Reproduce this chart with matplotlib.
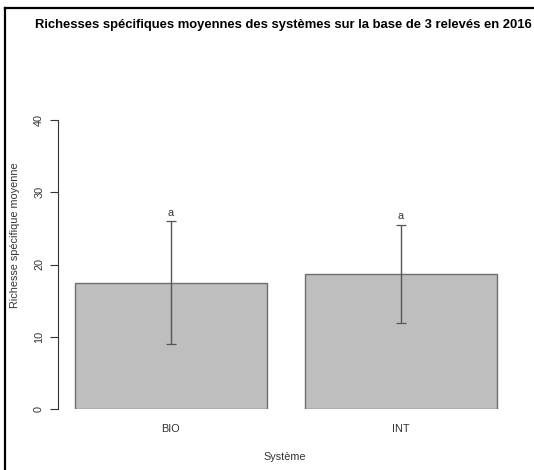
import matplotlib
matplotlib.use("Agg")
import matplotlib.pyplot as plt
from matplotlib.lines import Line2D

plt.rcParams['font.family'] = ['Liberation Sans', 'DejaVu Sans']

categories = ["BIO", "INT"]
means = [17.5, 18.7]
sd = [8.5, 6.8]
letters = ["a", "a"]
yticks = [0, 10, 20, 30, 40]

W, H = 534, 470
fig = plt.figure(figsize=(W / 100, H / 100), dpi=100)

def fx(px):
    return px / W

def fy(py):
    return 1 - py / H

ax = fig.add_axes([fx(58), fy(409), fx(515) - fx(58), fy(120) - fy(409)])
x = list(range(len(categories)))
ax.bar(x, means, width=0.835, color="#bebebe", edgecolor="#6e6e6e", linewidth=1.0, zorder=1)
ax.errorbar(x, means, yerr=sd, fmt="none", ecolor="#555555", elinewidth=1.0,
            capsize=3.8, capthick=0.9, zorder=3, clip_on=False)
for xi, m, s, l in zip(x, means, sd, letters):
    ax.text(xi, m + s + 0.5, l, ha="center", va="bottom", fontsize=7.8, color="#333333", clip_on=False)

ax.set_xlim(-0.491, 1.496)
ax.set_ylim(0, 40)
ax.set_yticks(yticks)
ax.set_yticklabels([str(t) for t in yticks], rotation=90, va="center", fontsize=7.8, color="#333333")
ax.set_xticks(x)
ax.set_xticklabels(categories, fontsize=7.8, color="#333333")
ax.tick_params(axis="x", length=0, pad=11)
ax.tick_params(axis="y", length=6, width=0.8, color="#333333", pad=4)
for s in ["top", "right", "bottom"]:
    ax.spines[s].set_visible(False)
ax.spines["left"].set_bounds(0, 40)
ax.spines["left"].set_linewidth(0.8)
ax.spines["left"].set_color("#333333")

fig.text(fx(35), fy(25), "Richesses spécifiques moyennes des systèmes sur la base de 3 relevés en 2016",
         ha="left", va="center", fontsize=9.4, fontweight="bold", color="black")
fig.text(fx(285), fy(457), "Système", ha="center", va="center", fontsize=7.8, color="#333333")
fig.text(fx(15), fy(235), "Richesse spécifique moyenne", ha="center", va="center",
         rotation=90, fontsize=7.8, color="#333333")

# screenshot frame
fig.add_artist(Line2D([fx(5), fx(5)], [fy(8), 0], transform=fig.transFigure, color="black", linewidth=1.6))
fig.add_artist(Line2D([fx(5), 1], [fy(8), fy(8)], transform=fig.transFigure, color="black", linewidth=1.6))

fig.savefig("out.png", dpi=100, facecolor="white")
